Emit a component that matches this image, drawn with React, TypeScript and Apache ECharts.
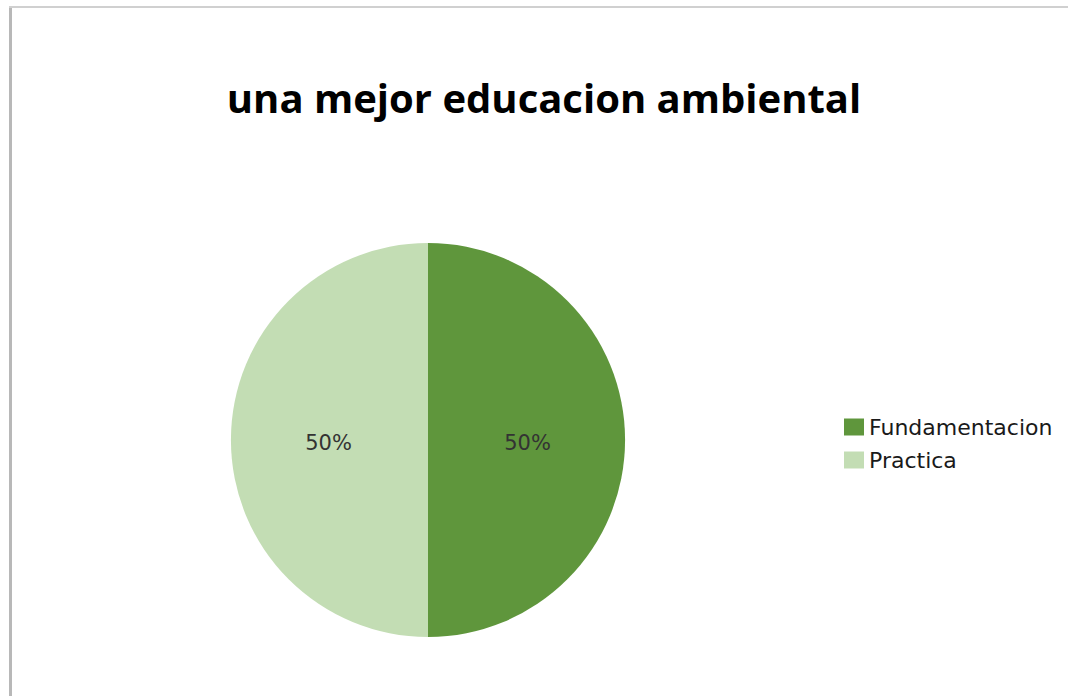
import React, { useEffect, useRef } from "react";
import * as echarts from "echarts";

const title = "una mejor educacion ambiental";
const categories = ["Fundamentacion", "Practica"];
const values = [50, 50];
const colors = ["#5f963c", "#c3ddb4"];

export default function App() {
  const ref = useRef<HTMLDivElement>(null);
  useEffect(() => {
    document.body.style.margin = "0";
    const chart = echarts.init(ref.current!, null, { renderer: "svg" });
    chart.setOption({
      animation: false,
      backgroundColor: "#ffffff",
      title: {
        text: title,
        left: 539,
        top: 72,
        textAlign: "center",
        textStyle: {
          fontFamily: "Open Sans",
          fontWeight: "bold",
          fontSize: 40,
          color: "#000000",
        },
      },
      legend: {
        orient: "vertical",
        left: 844,
        top: 416,
        padding: 0,
        itemWidth: 20,
        itemHeight: 17,
        itemGap: 11,
        icon: "rect",
        textStyle: { fontFamily: "DejaVu Sans", fontSize: 22, color: "#1a1a1a", lineHeight: 22 },
        data: categories,
      },
      graphic: [
        { type: "line", shape: { x1: 10.5, y1: 7, x2: 10.5, y2: 696 }, style: { stroke: "#b8b8b8", lineWidth: 3 } },
        { type: "line", shape: { x1: 9, y1: 7, x2: 1068, y2: 7 }, style: { stroke: "#d0d0d0", lineWidth: 2 } },
      ],
      series: [
        {
          type: "pie",
          center: [428, 440],
          radius: [0, 197],
          startAngle: 90,
          clockwise: true,
          label: {
            show: true,
            position: "inside",
            formatter: "{d}%",
            fontFamily: "DejaVu Sans",
            fontSize: 21,
            color: "#333333",
          },
          labelLine: { show: false },
          itemStyle: { borderWidth: 0 },
          emphasis: { disabled: true },
          data: categories.map((c, i) => ({
            name: c,
            value: values[i],
            itemStyle: { color: colors[i] },
            label: { offset: [i === 0 ? -2 : 2, 3] },
          })),
        },
      ],
    });
    return () => chart.dispose();
  }, []);
  return <div ref={ref} style={{ width: 1068, height: 696 }} />;
}
